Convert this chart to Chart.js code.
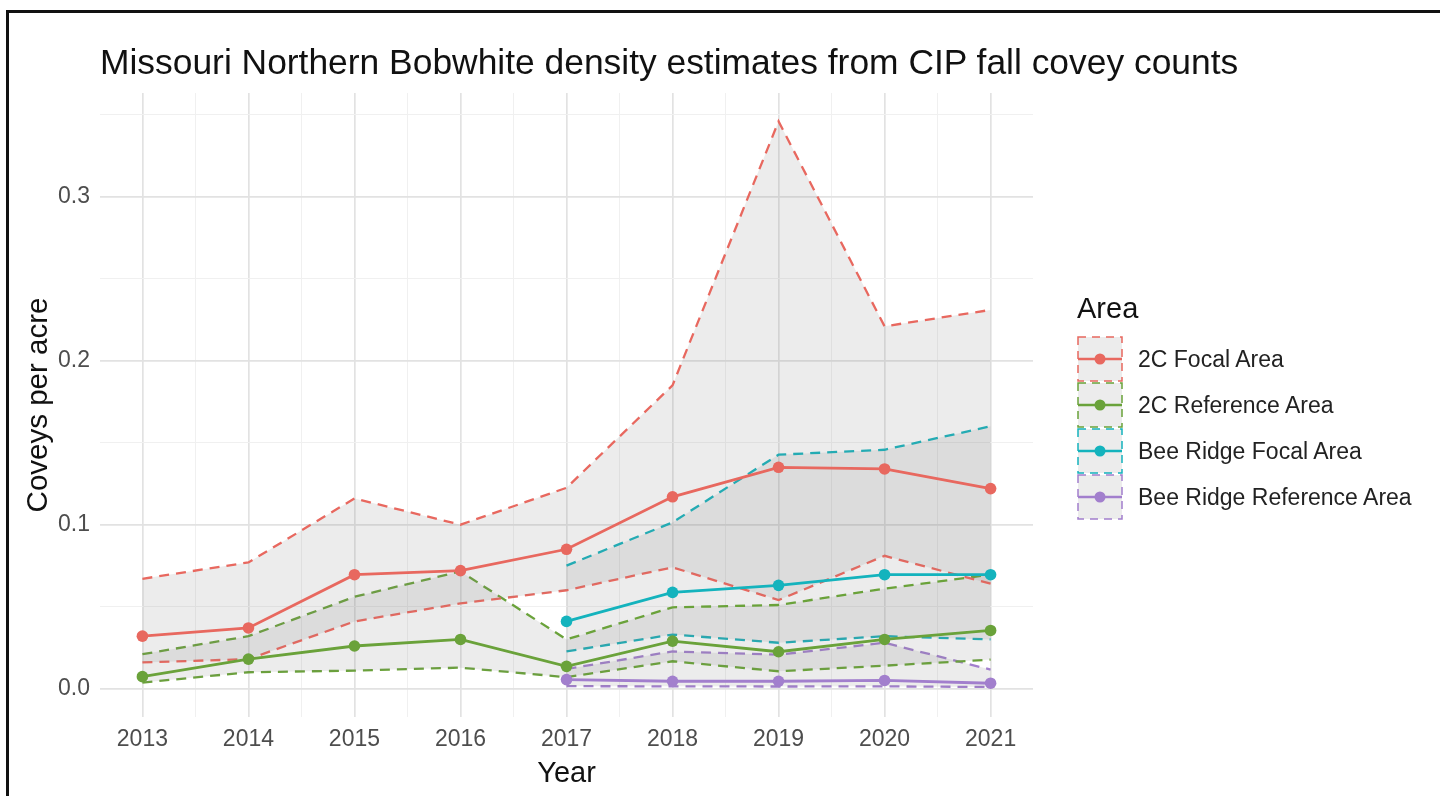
<!DOCTYPE html>
<html>
<head>
<meta charset="utf-8">
<script src="https://cdn.jsdelivr.net/npm/chart.js@4.4.0/dist/chart.umd.min.js"></script>
<style>
  html, body { margin: 0; padding: 0; background: #fff; }
  body { width: 1440px; height: 796px; position: relative; overflow: hidden; font-family: "Liberation Sans", Arial, sans-serif; }
  #frame { position: absolute; left: 6px; top: 10px; width: 1460px; height: 820px; border-left: 3px solid #111; border-top: 3px solid #111; }
  #wrap { position: absolute; left: 0; top: 0; width: 1440px; height: 796px; }
  #title { position: absolute; left: 100px; top: 45px; font-size: 35.4px; line-height: 35px; color: #111; white-space: nowrap; }
  #legend { position: absolute; left: 1077px; top: 294px; }
  #legend .head { font-size: 29px; line-height: 29px; color: #111; margin-bottom: 13px; }
  #legend .row { display: flex; align-items: center; height: 46px; }
  #legend .row svg { display: block; width: 46px; height: 46px; }
  #legend .row span { font-size: 23px; color: #222; margin-left: 15px; white-space: nowrap; }
</style>
</head>
<body>
<div id="frame"></div>
<div id="wrap"><canvas id="chart" width="1440" height="796"></canvas></div>
<div id="title">Missouri Northern Bobwhite density estimates from CIP fall covey counts</div>
<div id="legend"><div class="head">Area</div></div>

<script>
// 数据
const years = [2013, 2014, 2015, 2016, 2017, 2018, 2019, 2020, 2021]
const beeYears = [2017, 2018, 2019, 2020, 2021]

const focal2C = [0.032, 0.037, 0.0695, 0.072, 0.085, 0.117, 0.135, 0.134, 0.122]
const focal2CHigh = [0.067, 0.077, 0.116, 0.100, 0.1225, 0.185, 0.346, 0.221, 0.231]
const focal2CLow = [0.016, 0.018, 0.041, 0.052, 0.060, 0.074, 0.054, 0.081, 0.064]

const ref2C = [0.0073, 0.018, 0.026, 0.030, 0.0136, 0.029, 0.0225, 0.030, 0.0355]
const ref2CHigh = [0.021, 0.032, 0.056, 0.0715, 0.030, 0.0496, 0.051, 0.061, 0.0695]
const ref2CLow = [0.0037, 0.010, 0.011, 0.0128, 0.007, 0.0167, 0.0106, 0.014, 0.0177]

const beeFocal = [0.041, 0.0587, 0.063, 0.0695, 0.0695]
const beeFocalHigh = [0.075, 0.1014, 0.1427, 0.1457, 0.160]
const beeFocalLow = [0.0227, 0.033, 0.028, 0.032, 0.030]

const beeRef = [0.0055, 0.0045, 0.0045, 0.005, 0.0033]
const beeRefHigh = [0.012, 0.0227, 0.0207, 0.028, 0.0116]
const beeRefLow = [0.0015, 0.0014, 0.0013, 0.0014, 0.001]

const areaNames = ['2C Focal Area', '2C Reference Area', 'Bee Ridge Focal Area', 'Bee Ridge Reference Area']
const areaColors = ['#e8685f', '#6aa23a', '#14b3bd', '#a27fcd']

const yMajor = [0, 0.1, 0.2, 0.3]
const yMinor = [0.05, 0.15, 0.25, 0.35]

const ribbonFill = 'rgba(127,127,127,0.15)'
const dash = [10, 7]

// 坐标点
function pts(xs, ys) {
  return xs.map((x, i) => ({ x: x, y: ys[i] }))
}

// 置信区间 (上下虚线 + 灰色填充)
function band(xs, hi, lo, color) {
  return [
    { data: pts(xs, hi), borderColor: color, borderDash: dash, borderWidth: 2.3, pointRadius: 0,
      fill: '+1', backgroundColor: ribbonFill, order: 2 },
    { data: pts(xs, lo), borderColor: color, borderDash: dash, borderWidth: 2.3, pointRadius: 0,
      fill: false, order: 2 }
  ]
}

// 估计值折线
function mean(xs, ys, color) {
  return { data: pts(xs, ys), borderColor: color, borderWidth: 2.8, pointRadius: 5.8,
    pointBackgroundColor: color, pointBorderWidth: 0, fill: false, order: 1 }
}

const datasets = [
  ...band(years, focal2CHigh, focal2CLow, areaColors[0]),
  ...band(years, ref2CHigh, ref2CLow, areaColors[1]),
  ...band(beeYears, beeFocalHigh, beeFocalLow, areaColors[2]),
  ...band(beeYears, beeRefHigh, beeRefLow, areaColors[3]),
  mean(years, focal2C, areaColors[0]),
  mean(years, ref2C, areaColors[1]),
  mean(beeYears, beeFocal, areaColors[2]),
  mean(beeYears, beeRef, areaColors[3])
]

// 网格 (主要 + 次要)
const xGrid = []
years.forEach((y, i) => {
  xGrid.push(y)
  if (i < years.length - 1) xGrid.push(y + 0.5)
})
const yGrid = [...yMajor, ...yMinor].sort((a, b) => a - b)

const isMajorX = v => years.includes(v)
const isMajorY = v => yMajor.some(m => Math.abs(m - v) < 1e-9)

new Chart(document.getElementById('chart'), {
  type: 'line',
  data: { datasets },
  options: {
    responsive: false,
    animation: false,
    layout: { padding: { left: 0, right: 407, top: 93, bottom: 0 } },
    plugins: { legend: { display: false }, tooltip: { enabled: false }, title: { display: false } },
    elements: { line: { tension: 0 } },
    scales: {
      x: {
        type: 'linear',
        min: 2012.6,
        max: 2021.4,
        afterBuildTicks: s => { s.ticks = xGrid.map(v => ({ value: v })) },
        afterFit: s => { s.height = 79 },
        border: { display: false },
        grid: {
          drawTicks: false,
          color: c => isMajorX(c.tick.value) ? '#e2e2e2' : '#f0f0f0',
          lineWidth: c => isMajorX(c.tick.value) ? 1.7 : 1
        },
        ticks: {
          autoSkip: false, maxRotation: 0, padding: 9,
          color: '#4d4d4d', font: { family: 'Liberation Sans', size: 23 },
          callback: v => isMajorX(v) ? String(v) : ''
        },
        title: { display: true, text: 'Year', color: '#111', padding: { top: 0, bottom: 5 },
          font: { family: 'Liberation Sans', size: 29 } }
      },
      y: {
        type: 'linear',
        min: -0.0173,
        max: 0.3633,
        afterBuildTicks: s => { s.ticks = yGrid.map(v => ({ value: v })) },
        afterFit: s => { s.width = 100 },
        border: { display: false },
        grid: {
          drawTicks: false,
          color: c => isMajorY(c.tick.value) ? '#e2e2e2' : '#f0f0f0',
          lineWidth: c => isMajorY(c.tick.value) ? 1.7 : 1
        },
        ticks: {
          autoSkip: false, padding: 10,
          color: '#4d4d4d', font: { family: 'Liberation Sans', size: 23 },
          callback: v => isMajorY(v) ? v.toFixed(1) : ''
        },
        title: { display: true, text: 'Coveys per acre', color: '#111', padding: { top: 21, bottom: 0 },
          font: { family: 'Liberation Sans', size: 29.5 } }
      }
    }
  }
})

// 图例
const legend = document.getElementById('legend')
areaNames.forEach((name, i) => {
  const c = areaColors[i]
  const row = document.createElement('div')
  row.className = 'row'
  row.innerHTML =
    '<svg viewBox="0 0 46 46">' +
    '<rect x="1" y="1" width="44" height="44" fill="' + ribbonFill + '" stroke="' + c + '" stroke-width="1.5" stroke-dasharray="8 6"/>' +
    '<line x1="1" y1="23" x2="45" y2="23" stroke="' + c + '" stroke-width="2.5"/>' +
    '<circle cx="23" cy="23" r="5.5" fill="' + c + '"/>' +
    '</svg><span>' + name + '</span>'
  legend.appendChild(row)
})
</script>
</body>
</html>
